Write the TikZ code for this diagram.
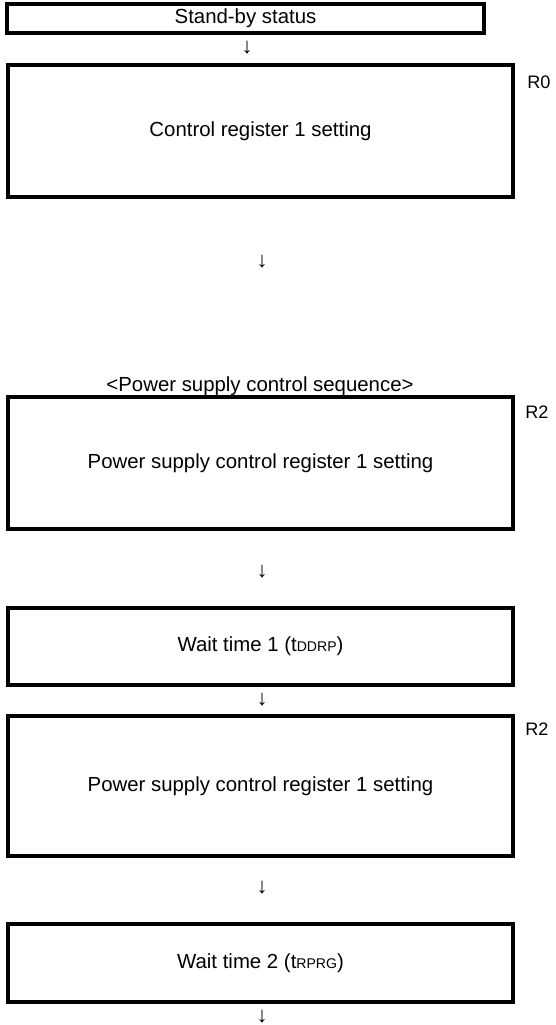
\documentclass[tikz,border=0pt]{standalone}
\usepackage{fontspec}
\setmainfont{Liberation Sans}
\newcommand{\lowcaps}[1]{{\fontsize{8}{9}\selectfont #1}}

\begin{document}
\begin{tikzpicture}[
    flowbox/.style={draw=black,line width=2.3pt,inner sep=0pt,
                    minimum width=10.10cm,font=\fontsize{11.6}{13}\selectfont},
    downmark/.style={inner sep=0pt,font=\fontsize{12.5}{14}\selectfont},
    seqtag/.style={inner sep=0pt,font=\fontsize{11.6}{13}\selectfont},
    regtag/.style={anchor=west,inner sep=0pt,font=\fontsize{10.3}{12}\selectfont}]

  \useasboundingbox (0,0) rectangle (11.1,20.5);

  % ---- Stand-by and first register ----------------------------
  \node[flowbox,minimum width=9.54cm,minimum height=0.58cm] (standby)
    at (4.91,20.13) {Stand-by status};
  \node[downmark] (dn1) at (4.94,19.54) {↓};
  \node[flowbox,minimum height=2.64cm] (ctrlreg) at (5.21,17.88)
    {Control register 1 setting};
  \node[regtag] (tagR0) at (10.54,18.86) {R0};
  \node[downmark] (dn2) at (5.24,15.26) {↓};

  % ---- Power supply control sequence --------------------------
  \node[seqtag] (seqtitle) at (5.20,12.78) {<Power supply control sequence>};
  \node[flowbox,minimum height=2.64cm] (pwrregA) at (5.21,11.24)
    {Power supply control register 1 setting};
  \node[regtag] (tagRa) at (10.50,12.26) {R2};
  \node[downmark] (dn3) at (5.24,9.06) {↓};
  \node[flowbox,minimum height=1.54cm] (waitA) at (5.21,7.57)
    {Wait time 1 (t\lowcaps{DDRP})};
  \node[downmark] (dn4) at (5.24,6.50) {↓};
  \node[flowbox,minimum height=2.80cm] (pwrregB) at (5.21,4.78)
    {Power supply control register 1 setting};
  \node[regtag] (tagRb) at (10.50,5.92) {R2};
  \node[downmark] (dn5) at (5.24,2.74) {↓};
  \node[flowbox,minimum height=1.56cm] (waitB) at (5.21,1.24)
    {Wait time 2 (t\lowcaps{RPRG})};
  \node[downmark] (dn6) at (5.24,0.16) {↓};

\end{tikzpicture}
\end{document}
